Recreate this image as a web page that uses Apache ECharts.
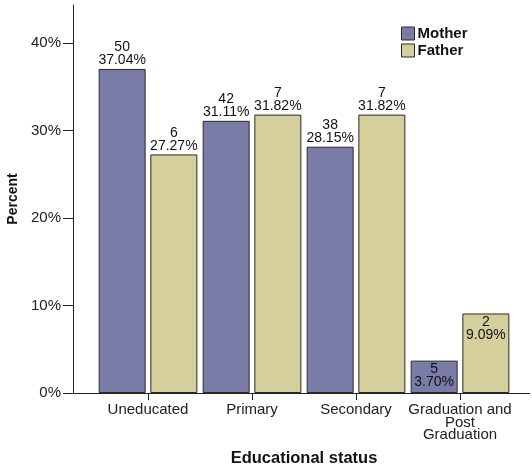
<!DOCTYPE html>
<html><head><meta charset="utf-8">
<script src="https://cdn.jsdelivr.net/npm/echarts@6/dist/echarts.min.js"></script>
<style>html,body{margin:0;padding:0;background:#fff}#c{width:532px;height:467px}</style>
</head><body><div id="c"></div>
<script>
const categories = ['Uneducated', 'Primary', 'Secondary', 'Graduation and\nPost\nGraduation'];
const motherCounts = [50, 42, 38, 5];
const motherPct = [37.04, 31.11, 28.15, 3.70];
const fatherCounts = [6, 7, 7, 2];
const fatherPct = [27.27, 31.82, 31.82, 9.09];
const yTicks = [0, 10, 20, 30, 40];

const FONT = '"Liberation Sans", Arial, sans-serif';
function mk(pcts, counts) {
  return pcts.map((v, i) => ({
    value: v,
    count: counts[i],
    label: v < 10 ? { position: 'insideTop', distance: 2 } : undefined
  }));
}
const labelCfg = {
  show: true, position: 'top', distance: 2, fontFamily: FONT, fontSize: 14, lineHeight: 13, color: '#111',
  formatter: p => p.data.count + '\n' + p.value.toFixed(2) + '%'
};
const chart = echarts.init(document.getElementById('c'), null, { renderer: 'canvas' });
chart.setOption({
  animation: false,
  textStyle: { fontFamily: FONT },
  grid: { left: 96, right: 20, top: 5, bottom: 74, containLabel: false, outerBoundsMode: 'none' },
  legend: {
    orient: 'vertical', left: 401, top: 26, padding: 0,
    icon: 'rect',
    itemWidth: 13, itemHeight: 13, itemGap: 2,
    itemStyle: { borderColor: '#2a2a2a', borderWidth: 1 },
    textStyle: { fontFamily: FONT, fontSize: 15, fontWeight: 'bold', color: '#111', padding: [0, 0, 0, -2] },
    data: ['Mother', 'Father']
  },
  xAxis: {
    type: 'category', data: categories,
    axisLine: { show: true, lineStyle: { color: '#222' } },
    axisTick: { show: true, alignWithLabel: true, length: 7, lineStyle: { color: '#222' } },
    axisLabel: { fontFamily: FONT, fontSize: 15, color: '#222', margin: 11, lineHeight: 12.5, interval: 0 },
    name: 'Educational status', nameLocation: 'middle', nameGap: 57,
    nameTextStyle: { fontFamily: FONT, fontSize: 16.5, fontWeight: 'bold', color: '#111' }
  },
  yAxis: {
    type: 'value', min: 0, max: 44.35, interval: 10, offset: 23,
    axisLine: { show: true, lineStyle: { color: '#222' } },
    axisTick: { show: true, length: 10, customValues: yTicks, lineStyle: { color: '#222' } },
    splitLine: { show: false },
    axisLabel: { fontFamily: FONT, fontSize: 15, color: '#222', margin: 12, customValues: yTicks, formatter: v => v + '%' },
    name: 'Percent', nameLocation: 'middle', nameGap: 44, nameRotate: 90,
    nameTextStyle: { fontFamily: FONT, fontSize: 14, fontWeight: 'bold', color: '#111' }
  },
  graphic: [{
    type: 'line', shape: { x1: 73, y1: 393.5, x2: 530, y2: 393.5 },
    style: { stroke: '#222', lineWidth: 1 }, z: 100
  }],
  series: [
    {
      name: 'Mother', type: 'bar', data: mk(motherPct, motherCounts),
      barWidth: 47, barGap: '10%',
      itemStyle: { color: '#7b7ba8', borderColor: '#2a2a2a', borderWidth: 1 },
      label: labelCfg
    },
    {
      name: 'Father', type: 'bar', data: mk(fatherPct, fatherCounts),
      barWidth: 47,
      itemStyle: { color: '#d5d09b', borderColor: '#2a2a2a', borderWidth: 1 },
      label: labelCfg
    }
  ]
});
</script></body></html>
